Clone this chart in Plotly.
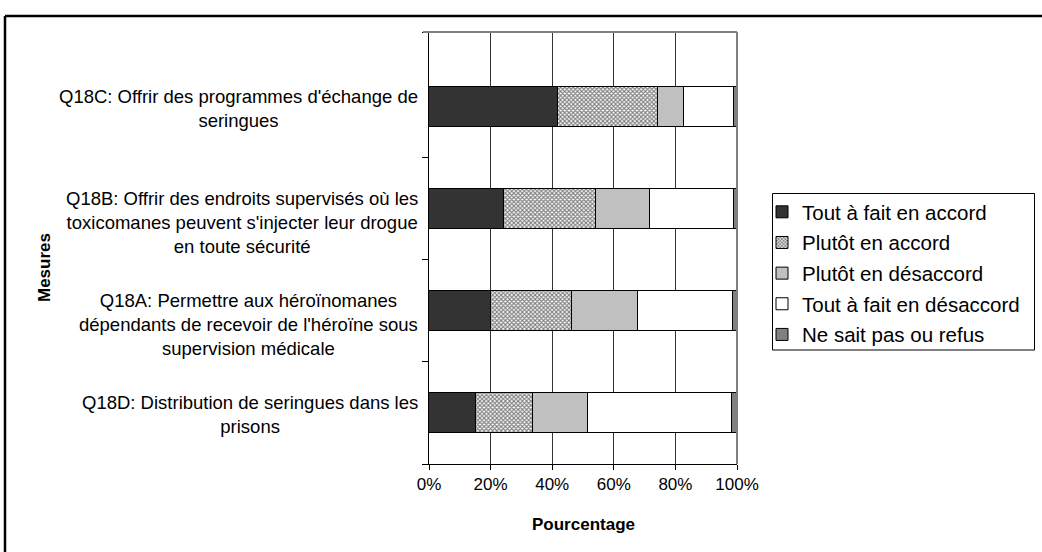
import plotly.graph_objects as go

# Survey measures (bottom to top as drawn)
mesures = ["Q18D", "Q18A", "Q18B", "Q18C"]
libelles = [
    "Q18D: Distribution de seringues dans les<br>prisons",
    "Q18A: Permettre aux héroïnomanes<br>dépendants de recevoir de l'héroïne sous<br>supervision médicale",
    "Q18B: Offrir des endroits supervisés où les<br>toxicomanes peuvent s'injecter leur drogue<br>en toute sécurité",
    "Q18C: Offrir des programmes d'échange de<br>seringues",
]
positions = [0, 1, 2, 3]

# Response shares (%) per measure, same order as above
tout_accord = [15.2, 20.0, 24.4, 41.8]
plutot_accord = [18.7, 26.5, 29.8, 32.6]
plutot_desaccord = [17.8, 21.5, 17.4, 8.4]
tout_desaccord = [46.8, 30.8, 27.5, 16.3]
ne_sait_pas = [1.5, 1.2, 0.9, 0.9]

x_ticks = [0, 20, 40, 60, 80, 100]
BAR_WIDTH = 0.4

series = [
    ("Tout à fait en accord", tout_accord, dict(color="#333333")),
    ("Plutôt en accord", plutot_accord,
     dict(color="#ffffff", pattern=dict(shape="x", fgcolor="#000000", bgcolor="#ffffff",
                                        size=3, solidity=0.6))),
    ("Plutôt en désaccord", plutot_desaccord, dict(color="#c0c0c0")),
    ("Tout à fait en désaccord", tout_desaccord, dict(color="#ffffff")),
    ("Ne sait pas ou refus", ne_sait_pas, dict(color="#808080")),
]

fig = go.Figure()
for i, (nom, valeurs, style) in enumerate(series):
    fig.add_trace(go.Bar(
        y=positions, x=valeurs, name=nom, orientation="h", width=BAR_WIDTH,
        marker=dict(line=dict(color="#000000", width=1), **style),
        legendgroup=f"g{i}",
        hoverinfo="name+x",
    ))

FONT = "Liberation Sans, Arial, sans-serif"
W, H = 1042, 552
L, R, T, B = 429, 305, 32, 88
pw = W - L - R
ph = H - T - B


def px(xp):
    return (xp - L) / pw


def py(yp):
    return (H - B - yp) / ph


fig.update_layout(
    width=W, height=H,
    margin=dict(l=L, r=R, t=T, b=B),
    barmode="stack",
    bargap=0,
    paper_bgcolor="#ffffff",
    plot_bgcolor="#ffffff",
    font=dict(family=FONT, size=17, color="#000000"),
    showlegend=True,
    legend=dict(
        x=px(762), xanchor="left", y=py(192), yanchor="top",
        traceorder="grouped", tracegroupgap=1,
        bgcolor="rgba(0,0,0,0)", borderwidth=0,
        font=dict(size=20.5, family=FONT),
        itemwidth=30,
    ),
    xaxis=dict(
        range=[0, 100], tickvals=x_ticks, ticktext=[f"{v}%" for v in x_ticks],
        showgrid=True, gridcolor="#333333", gridwidth=1,
        showline=True, linecolor="#000000", linewidth=1,
        ticks="outside", ticklen=5, tickcolor="#000000",
        zeroline=False, fixedrange=True,
        tickfont=dict(size=17),
    ),
    yaxis=dict(
        range=[-0.5, 3.735],
        tickvals=[-0.5, 0.5, 1.5, 2.5, 3.735],
        showticklabels=False,
        ticks="outside", ticklen=6, tickcolor="#000000",
        showgrid=False, zeroline=False,
        showline=True, linecolor="#000000", linewidth=1,
        fixedrange=True,
    ),
)

# Category labels, centred line by line, top-aligned with each bar
for pos, lib in zip(positions, libelles):
    fig.add_annotation(
        x=0, xref="paper", y=pos + BAR_WIDTH / 2, yref="y",
        text=lib, showarrow=False,
        xanchor="right", yanchor="top", align="center",
        xshift=-9, yshift=3, font=dict(size=18.5),
    )

# Axis titles
fig.add_annotation(
    x=0.5, xref="paper", y=py(524), yref="paper",
    text="<b>Pourcentage</b>", showarrow=False,
    xanchor="center", yanchor="middle", font=dict(size=17),
)
fig.add_annotation(
    x=px(44), xref="paper", y=py(268), yref="paper",
    text="<b>Mesures</b>", showarrow=False, textangle=-90,
    xanchor="center", yanchor="middle", font=dict(size=17),
)

# Grey top and right edges of the plot area
fig.add_shape(type="line", xref="paper", yref="paper", x0=px(423), x1=1, y0=1, y1=1,
              line=dict(color="#808080", width=2), layer="above")
fig.add_shape(type="line", xref="paper", yref="paper", x0=1, x1=1, y0=0, y1=1,
              line=dict(color="#808080", width=2), layer="above")

# Legend frame
fig.add_shape(type="rect", xref="paper", yref="paper",
              x0=px(772.5), x1=px(1034.5), y0=py(350), y1=py(193.5),
              line=dict(color="#000000", width=1), fillcolor="rgba(0,0,0,0)")

# Outer chart frame: only its top and left sides fall inside the page
fig.add_shape(type="line", xref="paper", yref="paper",
              x0=px(5), x1=px(W), y0=py(16), y1=py(16),
              line=dict(color="#000000", width=2.5))
fig.add_shape(type="line", xref="paper", yref="paper",
              x0=px(5), x1=px(5), y0=py(16), y1=py(H),
              line=dict(color="#000000", width=2.5))

fig.write_html("out.html", config={"displayModeBar": False})
